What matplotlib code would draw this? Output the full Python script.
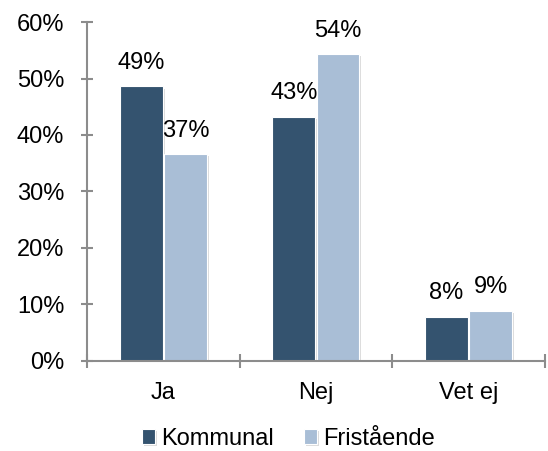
import numpy as np
import matplotlib.pyplot as plt
import matplotlib.patheffects as pe

plt.rcParams['font.family'] = ['Liberation Sans', 'DejaVu Sans']

categories = ["Ja", "Nej", "Vet ej"]
kommunal = [48.6, 43.2, 7.8]
fristaende = [36.6, 54.3, 8.9]
series_names = ["Kommunal", "Fristående"]

c_dark = "#34536F"
c_light = "#A9BED6"
axis_col = "#8C8C8C"

fig = plt.figure(figsize=(5.48, 4.51), dpi=100)
ax = fig.add_axes([0.159, 0.2, 0.835, 0.751])

x = np.arange(len(categories))
w = 0.28
shadow = [pe.SimplePatchShadow(offset=(1.5, -1.5), shadow_rgbFace="#bbbbbb", alpha=0.5), pe.Normal()]
b1 = ax.bar(x - w / 2 - 0.005, kommunal, w, color=c_dark, edgecolor="white", linewidth=0.8,
            label=series_names[0], path_effects=shadow)
b2 = ax.bar(x + w / 2 + 0.005, fristaende, w, color=c_light, edgecolor="white", linewidth=0.8,
            label=series_names[1], path_effects=shadow)

for bars, vals in [(b1, kommunal), (b2, fristaende)]:
    for b, v in zip(bars, vals):
        ax.annotate(f"{v:.0f}%", (b.get_x() + b.get_width() / 2, v), xytext=(0, 9),
                    textcoords="offset points", ha="center", va="bottom", fontsize=17)

ax.set_xlim(-0.5, len(categories) - 0.5)
ax.set_ylim(0, 60)
ax.set_yticks(np.arange(0, 61, 10))
ax.set_yticklabels([f"{t}%" for t in range(0, 61, 10)])
ax.set_xticks(x)
ax.set_xticklabels(categories)
ax.set_xticks(np.arange(-0.5, len(categories)), minor=True)

for s in ["top", "right"]:
    ax.spines[s].set_visible(False)
for s in ["left", "bottom"]:
    ax.spines[s].set_color(axis_col)
    ax.spines[s].set_linewidth(1.5)

ax.tick_params(axis="y", direction="inout", length=9, width=1.5, color=axis_col, labelsize=17, pad=12)
ax.tick_params(axis="x", which="major", length=0, labelsize=17, pad=15)
ax.tick_params(axis="x", which="minor", direction="inout", length=10, width=1.5, color=axis_col)

ax.legend(loc="upper center", bbox_to_anchor=(0.44, -0.135), ncol=2, frameon=False, fontsize=17,
          handlelength=0.55, handleheight=0.55, handletextpad=0.25, columnspacing=1.3)

fig.savefig("out.png", dpi=100)
